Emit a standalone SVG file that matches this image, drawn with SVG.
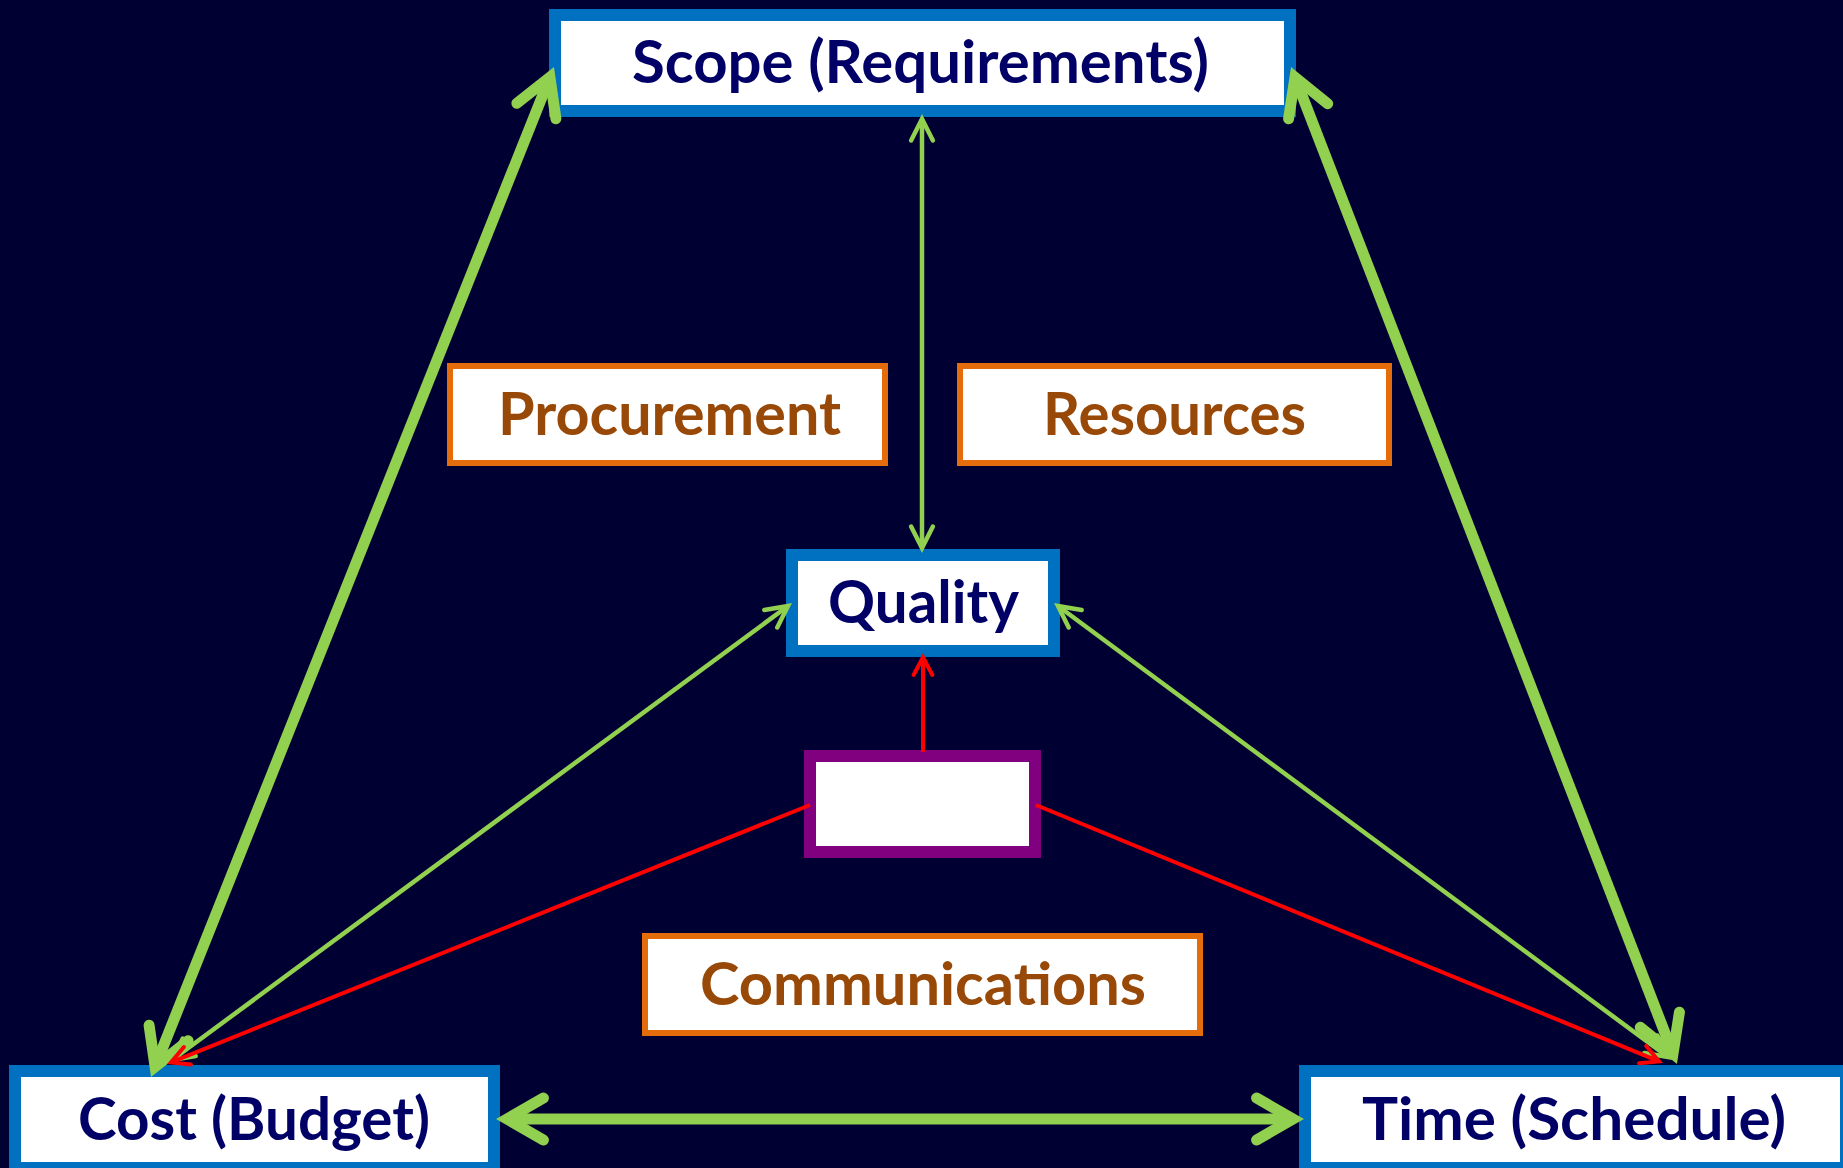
<svg xmlns="http://www.w3.org/2000/svg" width="1843" height="1168" viewBox="0 0 1843 1168">
<style>
.bg{fill:#000033}
.blue{fill:#ffffff;stroke:#0070C0;stroke-width:12}
.purple{fill:#ffffff;stroke:#800080;stroke-width:12}
.orange{fill:#ffffff;stroke:#E46C0A;stroke-width:6}
.t{font-family:Lato,"Open Sans","Liberation Sans",sans-serif;font-weight:bold;font-size:59px}
.navy{fill:#000066}
.brown{fill:#984807}
.thick{stroke:#92D050;stroke-width:11;fill:none}
.thin{stroke:#92D050;stroke-width:4.5;fill:none}
.red{stroke:#FF0000;stroke-width:4;fill:none}
</style>
<defs>
<marker id="mThick" markerUnits="userSpaceOnUse" orient="auto-start-reverse" overflow="visible" refX="0" refY="0" markerWidth="1" markerHeight="1">
<path d="M-36.4,-21 L0,0 L-36.4,21" fill="none" stroke="#92D050" stroke-width="11" stroke-linecap="round" stroke-linejoin="miter"/>
</marker>
<marker id="mThin" markerUnits="userSpaceOnUse" orient="auto-start-reverse" overflow="visible" refX="0" refY="0" markerWidth="1" markerHeight="1">
<path d="M-21.4,-10.9 L0,0 L-21.4,10.9" fill="none" stroke="#92D050" stroke-width="4.5" stroke-linecap="round" stroke-linejoin="miter"/>
</marker>
<marker id="mRed" markerUnits="userSpaceOnUse" orient="auto" overflow="visible" refX="0" refY="0" markerWidth="1" markerHeight="1">
<path d="M-17.7,-9.4 L0,0 L-17.7,9.4" fill="none" stroke="#FF0000" stroke-width="4" stroke-linecap="round" stroke-linejoin="miter"/>
</marker>
</defs>
<rect class="bg" x="0" y="0" width="1843" height="1168"/>
<g id="scope"><rect class="blue" x="555" y="15" width="735" height="96"/><text class="t navy" x="632" y="83" textLength="577" lengthAdjust="spacingAndGlyphs">Scope (Requirements)</text></g>
<g id="procurement"><rect class="orange" x="450" y="366" width="435" height="97"/><text class="t brown" x="498" y="435" textLength="343" lengthAdjust="spacingAndGlyphs">Procurement</text></g>
<g id="resources"><rect class="orange" x="960" y="366" width="429" height="97"/><text class="t brown" x="1043" y="435" textLength="263" lengthAdjust="spacingAndGlyphs">Resources</text></g>
<g id="quality"><rect class="blue" x="792" y="555" width="262" height="96"/><text class="t navy" x="828" y="623" textLength="191" lengthAdjust="spacingAndGlyphs">Quality</text></g>
<g id="center"><rect class="purple" x="810" y="756" width="225" height="96"/></g>
<g id="communications"><rect class="orange" x="645" y="936" width="555" height="97"/><text class="t brown" x="700" y="1005" textLength="446" lengthAdjust="spacingAndGlyphs">Communications</text></g>
<g id="cost"><rect class="blue" x="15" y="1071" width="479" height="97"/><text class="t navy" x="78" y="1140" textLength="352" lengthAdjust="spacingAndGlyphs">Cost (Budget)</text></g>
<g id="time"><rect class="blue" x="1305" y="1071" width="541" height="97"/><text class="t navy" x="1362" y="1140" textLength="424" lengthAdjust="spacingAndGlyphs">Time (Schedule)</text></g>
<g id="connectors">
<line class="thick" x1="549.9" y1="77.2" x2="155.1" y2="1066.8" marker-start="url(#mThick)" marker-end="url(#mThick)"/>
<line class="thick" x1="1295" y1="77.3" x2="1673" y2="1053.7" marker-start="url(#mThick)" marker-end="url(#mThick)"/>
<line class="thick" x1="507" y1="1119" x2="1293" y2="1119" marker-start="url(#mThick)" marker-end="url(#mThick)"/>
<line class="thin" x1="922" y1="119" x2="922" y2="548" marker-start="url(#mThin)" marker-end="url(#mThin)"/>
<line class="thin" x1="788" y1="606" x2="172" y2="1060" marker-start="url(#mThin)" marker-end="url(#mThin)"/>
<line class="thin" x1="1058" y1="606" x2="1668" y2="1057" marker-start="url(#mThin)" marker-end="url(#mThin)"/>
<line class="red" x1="923" y1="752" x2="923" y2="657.3" marker-end="url(#mRed)"/>
<line class="red" x1="810" y1="805" x2="171" y2="1062.4" marker-end="url(#mRed)"/>
<line class="red" x1="1036" y1="805" x2="1659" y2="1061.4" marker-end="url(#mRed)"/>
</g>
</svg>
